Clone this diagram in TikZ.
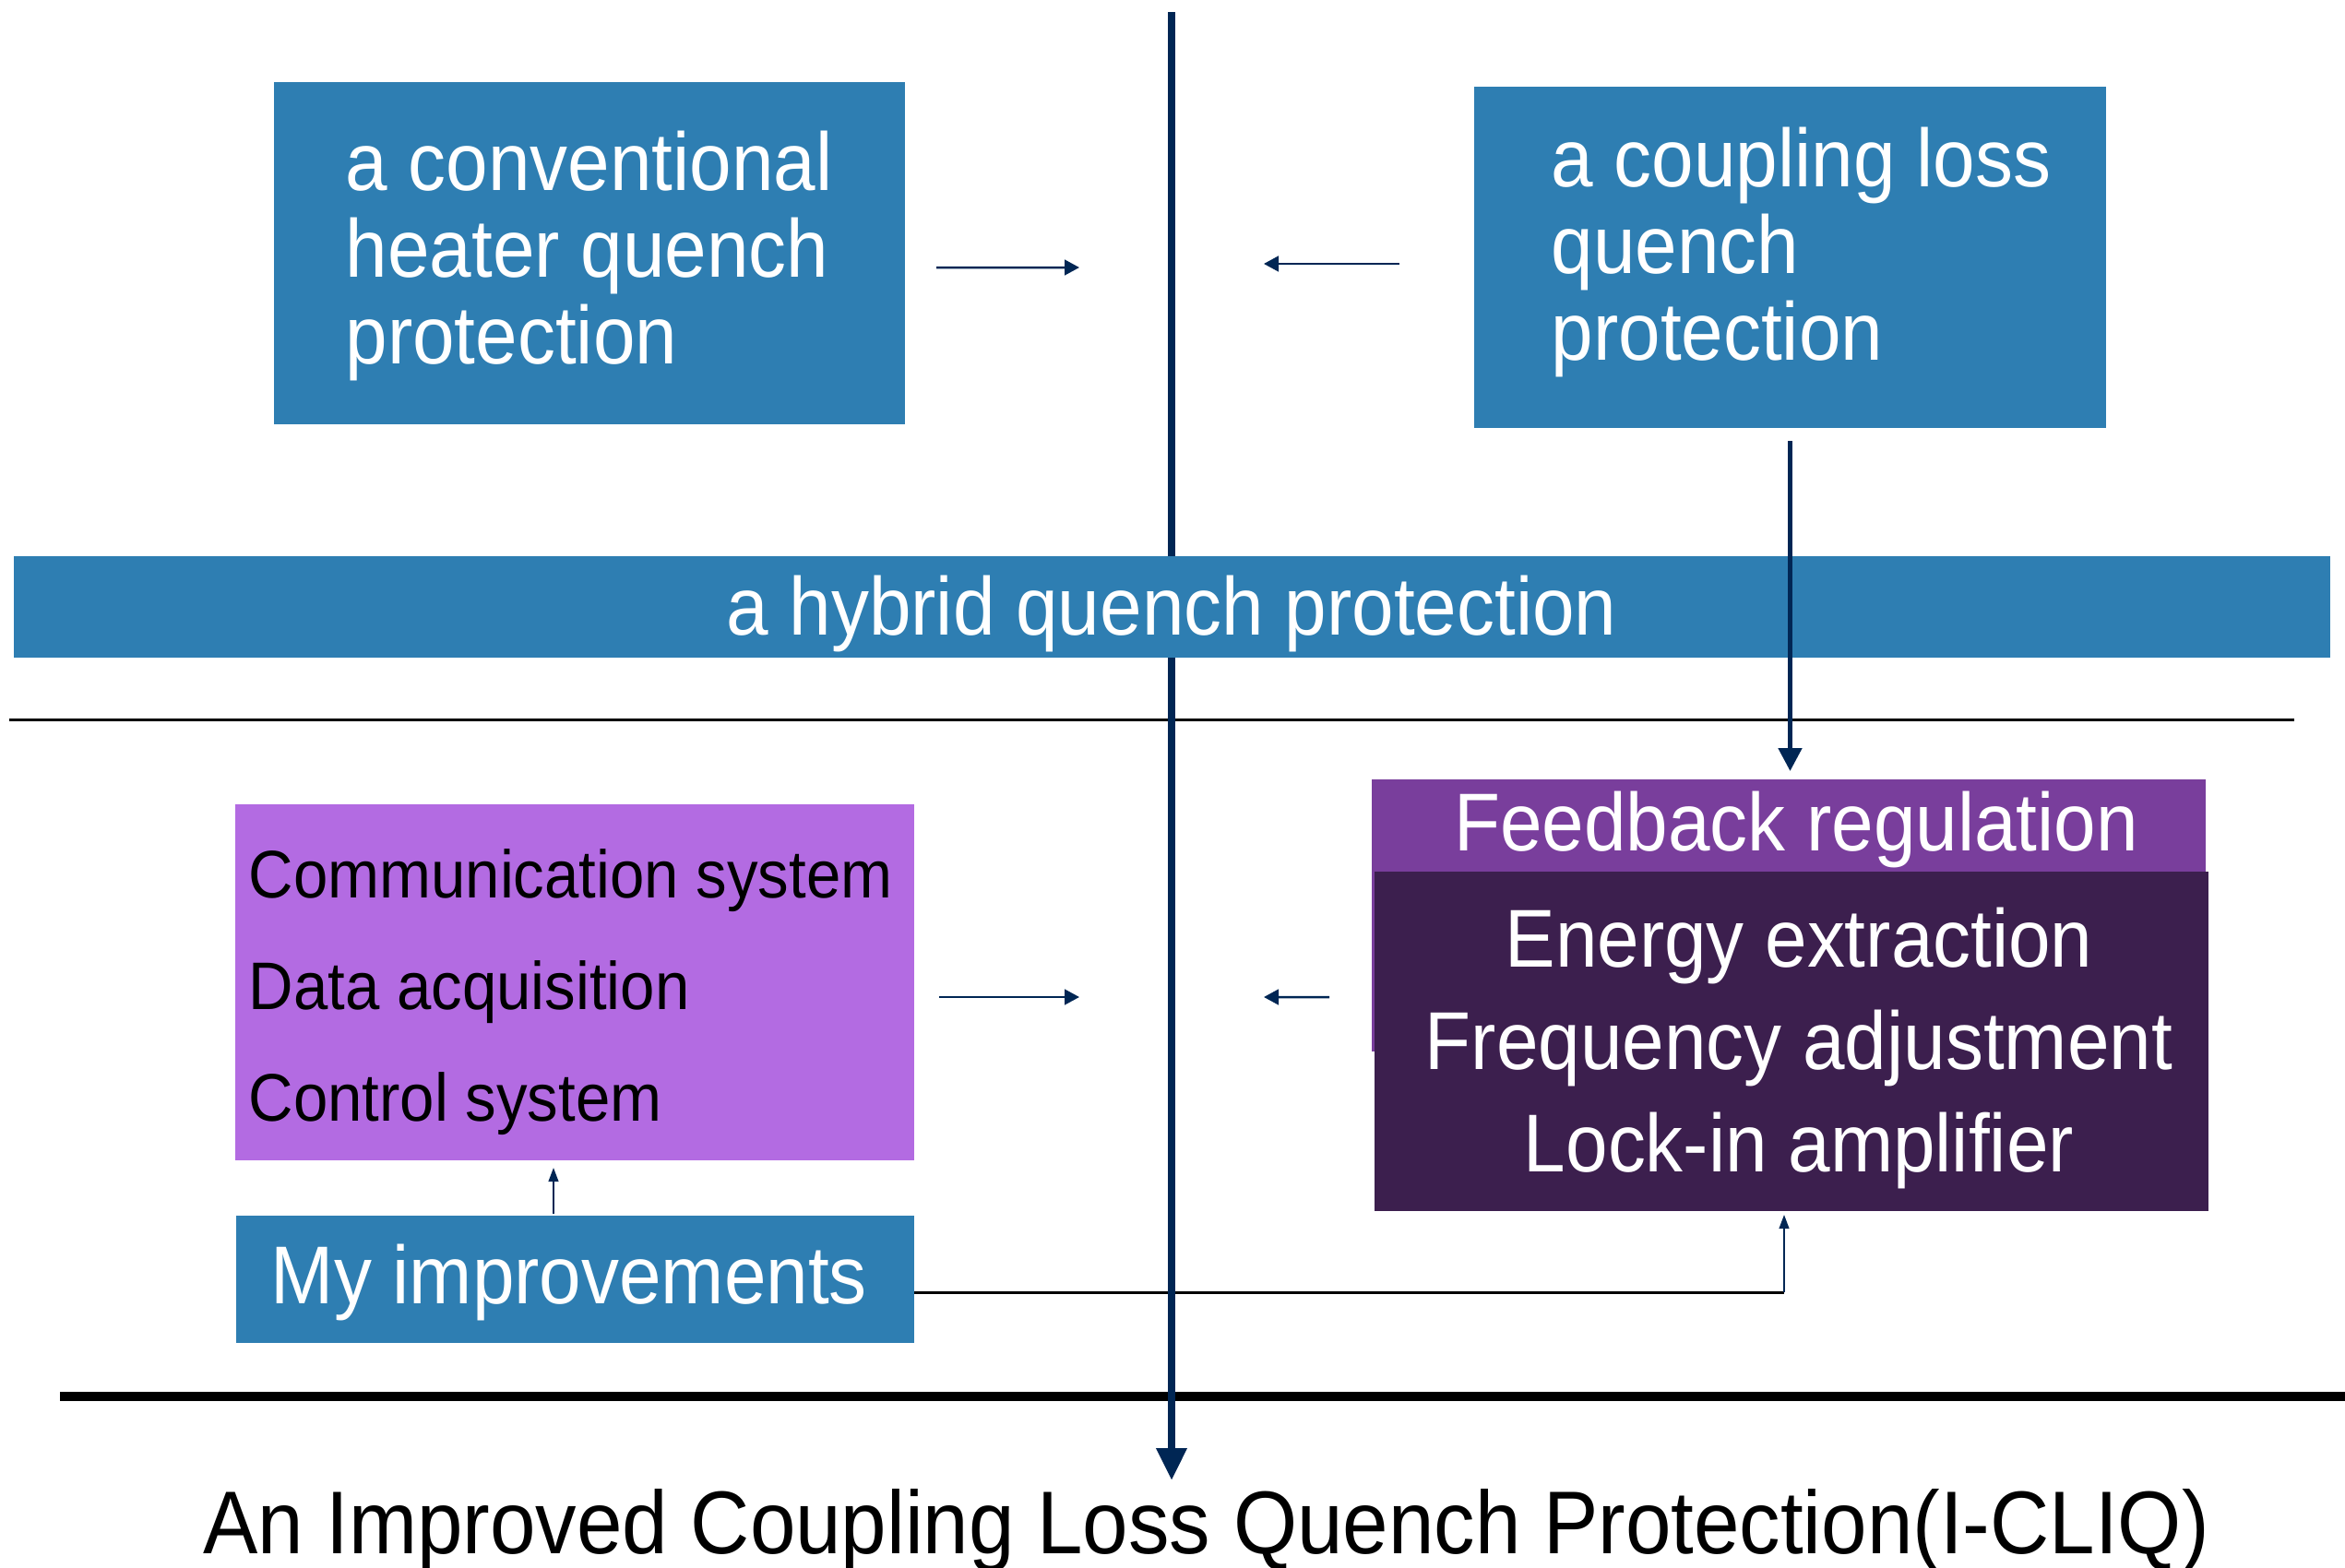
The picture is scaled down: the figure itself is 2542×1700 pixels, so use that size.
\documentclass[tikz,border=0pt]{standalone}
\usepackage{fontspec}
\setmainfont{Liberation Sans}[FakeStretch=0.92]
\usetikzlibrary{arrows.meta,calc}
\definecolor{qblue}{RGB}{46,126,178}
\definecolor{navy}{RGB}{0,38,84}
\definecolor{lpurple}{RGB}{179,107,226}
\definecolor{mpurple}{RGB}{121,62,156}
\definecolor{dpurple}{RGB}{60,31,78}
\def\pxu{0.3pt}
\begin{document}
\begin{tikzpicture}[x=0.3pt,y=-0.3pt,
  panel/.style={inner sep=0pt, outer sep=0pt, draw=none},
  bigtxt/.style={text=white, inner sep=0pt, font=\fontsize{26.7}{28.2}\selectfont},
  listtxt/.style={text=white, inner sep=0pt, align=center, font=\fontsize{26.7}{33.3}\selectfont},
  smalltxt/.style={text=black, inner sep=0pt, align=left, font=\fontsize{21.9}{36.3}\selectfont},
  flow/.style={draw=navy, line width=0.75pt, -{Triangle[length=4.8pt,width=5pt]}},
  upflow/.style={draw=navy, line width=0.6pt, -{Triangle[length=4.5pt,width=3.2pt]}},
  midflow/.style={draw=navy, line width=1.5pt, -{Triangle[length=7.5pt,width=7.5pt]}},
  mainflow/.style={draw=navy, line width=2.4pt, -{Triangle[length=10.5pt,width=9.5pt]}}
]
\useasboundingbox (0,0) rectangle (2542,1700);

% horizontal rules
\coordinate (rl) at (10,780);
\coordinate (rr) at (2487,780);
\draw[black, line width=0.9pt] (rl) -- (rr);
\coordinate (tl) at (65,1514);
\coordinate (tr) at (2542,1514);
\draw[black, line width=2.9pt] (tl) -- (tr);

% boxes
\node[panel, fill=qblue, minimum width=684*\pxu, minimum height=371*\pxu] (conv) at (639,274.5) {};
\node[panel, fill=qblue, minimum width=685*\pxu, minimum height=370*\pxu] (coup) at (1940.5,279) {};
\node[panel, fill=lpurple, minimum width=736*\pxu, minimum height=386*\pxu] (comm) at (623,1065) {};
\node[panel, fill=qblue, minimum width=735*\pxu, minimum height=138*\pxu] (myimp) at (623.5,1387) {};
\node[panel, fill=mpurple, minimum width=904*\pxu, minimum height=295*\pxu] (fbhead) at (1939,992.5) {};
\node[panel, fill=dpurple, minimum width=904*\pxu, minimum height=368*\pxu] (dark) at (1942,1129) {};

% My improvements -> feedback (horizontal part)
\coordinate (corner) at (1934,1401);
\draw[black, line width=0.9pt] (myimp.east |- corner) -- (corner);

% central axis
\coordinate (ctop) at (1270,13);
\coordinate (cbot) at (1270,1605);
\draw[mainflow] (ctop) -- (cbot);

% hybrid bar (covers the axis)
\node[panel, fill=qblue, minimum width=2511*\pxu, minimum height=110*\pxu] (hybrid) at (1270.5,658) {};
\node[bigtxt] (hybridtxt) at (1270,665) {a hybrid quench protection};

% texts
\node[bigtxt, anchor=west, align=left] (convtxt) at (374,277) {a conventional\\heater quench\\protection};
\node[bigtxt, anchor=west, align=left] (couptxt) at (1681,273) {a coupling loss\\quench\\protection};
\node[smalltxt, anchor=west] (commtxt) at (269,1076) {Communication system\\Data acquisition\\Control system};
\node[bigtxt] (fbtxt) at (1947,899) {Feedback regulation};
\node[listtxt] (darktxt) at (1950,1136) {Energy extraction\\Frequency adjustment\\Lock-in amplifier};
\node[bigtxt] (mytxt) at (617,1390) {My improvements};
\node[inner sep=0pt, text=black, font=\fontsize{29.0}{32}\selectfont] (title) at (1307.5,1659) {An Improved Coupling Loss Quench Protection(I-CLIQ)};

% arrows towards the axis
\coordinate (ah1) at (1170,290);
\draw[flow] ($(conv.east)+(34,15.5)$) -- (ah1);
\coordinate (ah2) at (1370,286);
\draw[flow] ($(coup.west)+(-81,7)$) -- (ah2);
\coordinate (ah3) at (1170,1081);
\draw[flow] ($(comm.east)+(27,16)$) -- (ah3);
\coordinate (ah4) at (1370,1081);
\draw[flow] ($(fbhead.west)+(-46,88.5)$) -- (ah4);

% vertical arrows
\draw[midflow] ($(coup.south)+(0,14)$) -- ($(coup.south |- fbhead.north)+(0,-9)$);
\draw[upflow] ($(myimp.north)+(-23.5,-2)$) -- ($(comm.south)+(-23,8)$);
\draw[upflow] (corner) -- ($(corner |- dark.south)+(0,4)$);
\end{tikzpicture}
\end{document}
